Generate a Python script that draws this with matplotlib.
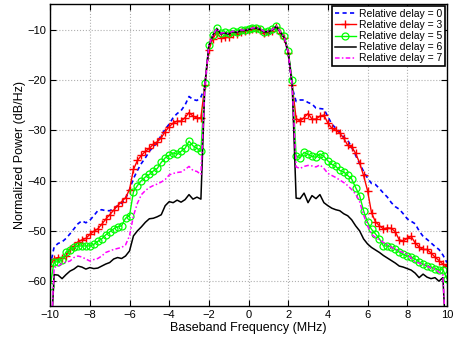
"""
Normalized power spectrum vs baseband frequency for several relative delays.
"""

import matplotlib
matplotlib.use("Agg")
import matplotlib.pyplot as plt
import numpy as np

plt.rcParams["font.family"] = ["Liberation Sans", "DejaVu Sans"]

# frequency grid (MHz), 0.2 MHz steps
freq = np.linspace(-10, 10, 101)

delay_labels = ["Relative delay = 0", "Relative delay = 3", "Relative delay = 5",
                "Relative delay = 6", "Relative delay = 7"]

psd_delay0 = [
    -57.0, -53.2, -52.5, -52.2, -51.5, -50.6, -49.6, -48.6, -48.0, -48.4, -47.9,
    -47.0, -46.0, -45.8, -46.0, -46.0, -45.6, -45.0, -44.5, -43.6, -41.8,
    -39.6, -38.0, -36.6, -35.5, -34.2, -33.3, -32.5, -31.0, -29.8, -28.8,
    -27.5, -26.7, -26.1, -25.0, -23.3, -23.9, -24.1, -23.4,
    -21.5, -13.6,
    -11.3, -10.0, -10.9, -10.8, -11.0, -10.5, -10.6, -10.3, -10.2, -10.1,
    -9.9, -9.9, -10.3, -10.9, -10.8, -10.5, -9.8, -10.8, -11.8,
    -14.6, -21.5,
    -24.3, -24.0, -24.0, -24.5, -24.8, -25.6, -25.7, -25.8, -27.3, -28.8,
    -29.6, -30.4, -31.4, -32.0, -33.4, -35.0, -36.6, -38.2, -39.5, -40.6,
    -40.8, -41.6, -42.5, -43.3, -44.4, -45.2, -45.7, -46.6, -47.6, -48.1,
    -48.6, -50.0, -51.1, -51.7, -52.4, -53.1, -53.7, -54.8, -56.3,
]

psd_delay3 = [
    -57.0, -55.5, -55.3, -55.3, -55.0, -53.6, -53.1, -52.2, -51.8, -51.5, -50.7,
    -50.1, -49.6, -48.7, -47.7, -46.8, -45.9, -45.0, -44.2, -43.4, -41.8,
    -37.8, -36.0, -35.0, -34.2, -33.6, -32.8, -32.3, -31.5, -30.3, -29.3,
    -28.6, -28.2, -28.2, -27.5, -26.5, -27.2, -27.6, -27.5,
    -21.0, -14.0,
    -11.8, -10.6, -11.6, -11.5, -11.5, -10.9, -10.9, -10.4, -10.3, -10.1,
    -9.9, -9.8, -10.1, -10.6, -10.5, -10.2, -9.5, -10.6, -11.7,
    -14.6, -21.0,
    -27.7, -28.2, -27.5, -26.7, -27.8, -27.8, -27.2, -27.0, -28.6, -29.6,
    -30.0, -30.6, -31.6, -33.0, -33.3, -34.6, -36.5, -39.0, -42.0, -46.4,
    -48.2, -49.0, -49.6, -49.4, -49.5, -50.2, -51.8, -52.0, -51.5, -51.1,
    -52.4, -53.2, -53.7, -53.7, -54.4, -55.2, -55.9, -56.6, -57.0,
]

psd_delay5 = [
    -61.0, -56.1, -56.2, -55.8, -54.2, -53.8, -53.3, -53.0, -53.0, -53.0, -53.0,
    -52.7, -52.1, -51.6, -50.8, -50.2, -49.6, -49.2, -49.0, -47.5, -47.0,
    -42.2, -41.0, -40.0, -39.3, -38.8, -38.1, -37.6, -36.4, -35.5, -35.0,
    -34.5, -34.8, -34.2, -33.6, -32.2, -33.1, -33.6, -34.2,
    -20.7, -13.1,
    -11.0, -9.7, -10.6, -10.5, -10.7, -10.2, -10.4, -10.0, -10.0, -9.8,
    -9.6, -9.6, -9.9, -10.4, -10.2, -9.9, -9.2, -10.3, -11.3,
    -14.2, -20.0,
    -35.1, -35.5, -34.4, -34.8, -35.2, -35.4, -34.7, -35.2, -36.1, -36.8,
    -37.2, -38.0, -38.3, -39.0, -39.7, -41.4, -43.0, -46.0, -48.3, -49.7,
    -50.6, -51.6, -53.0, -53.0, -53.2, -53.7, -54.2, -54.7, -55.0, -55.2,
    -55.6, -56.2, -56.6, -57.0, -57.2, -57.5, -57.8, -57.7, -59.5,
]

psd_delay6 = [
    -75.0, -58.7, -58.8, -59.5, -58.7, -58.0, -57.6, -57.0, -57.2, -57.6, -57.3,
    -57.5, -57.4, -57.0, -56.6, -56.3, -55.6, -55.3, -55.5, -55.0, -54.0,
    -51.0, -50.0, -49.2, -48.3, -47.6, -47.5, -47.2, -46.8, -45.0, -44.2,
    -44.4, -43.9, -44.3, -43.8, -42.8, -43.7, -43.3, -43.7,
    -21.0, -13.2,
    -11.2, -9.9, -10.8, -10.7, -10.9, -10.4, -10.6, -10.2, -10.2, -10.0,
    -9.8, -9.7, -10.0, -10.5, -10.4, -10.1, -9.4, -10.5, -11.6,
    -14.5, -21.0,
    -43.5, -43.6, -42.5, -44.4, -43.0, -43.6, -42.8, -44.4, -45.0, -45.5,
    -45.8, -46.0, -46.6, -47.0, -47.8, -49.0, -50.0, -51.6, -52.6, -53.3,
    -53.8, -54.3, -54.9, -55.4, -55.9, -56.4, -57.0, -57.2, -57.5, -57.8,
    -58.4, -59.3, -58.6, -59.2, -59.5, -59.3, -60.0, -59.3, -75.0,
]

psd_delay7 = [
    -75.0, -57.3, -57.0, -56.5, -56.2, -56.0, -55.3, -55.0, -55.2, -55.6, -56.0,
    -55.7, -55.5, -55.0, -54.3, -54.0, -53.7, -53.5, -53.3, -52.8, -51.0,
    -47.0, -44.5, -42.8, -42.0, -41.4, -41.0, -40.7, -40.3, -39.8, -38.9,
    -38.6, -38.4, -38.3, -37.8, -37.2, -38.0, -38.2, -38.8,
    -21.0, -13.2,
    -11.1, -9.8, -10.7, -10.6, -10.8, -10.3, -10.5, -10.1, -10.1, -9.9,
    -9.7, -9.6, -9.9, -10.4, -10.3, -10.0, -9.3, -10.4, -11.5,
    -14.4, -21.0,
    -37.3, -37.6, -37.2, -37.0, -37.1, -37.3, -36.9, -37.6, -38.6, -39.0,
    -39.4, -39.9, -40.4, -41.0, -41.8, -42.7, -44.2, -46.8, -49.0, -50.7,
    -51.3, -51.8, -52.3, -52.8, -53.3, -53.6, -54.0, -54.3, -54.7, -55.4,
    -56.2, -56.4, -56.7, -57.0, -57.4, -57.6, -58.2, -58.8, -75.0,
]


fig = plt.figure(figsize=(4.56, 3.37), dpi=100)
ax = fig.add_axes([0.110, 0.091, 0.870, 0.896])

ax.plot(freq, psd_delay0, color="#0000ff", linestyle=(0, (2.5, 2)), linewidth=1.2,
        label=delay_labels[0])
ax.plot(freq, psd_delay3, color="#ff0000", linestyle="-", linewidth=1.0,
        marker="+", markersize=6, markeredgewidth=1.0, label=delay_labels[1])
ax.plot(freq, psd_delay5, color="#00ff00", linestyle="-", linewidth=1.0,
        marker="o", markersize=5, markerfacecolor="none", markeredgewidth=0.9,
        label=delay_labels[2])
ax.plot(freq, psd_delay6, color="black", linestyle="-", linewidth=1.1,
        label=delay_labels[3])
ax.plot(freq, psd_delay7, color="#ff00ff", linestyle=(0, (3, 1.5, 1, 1.5)), linewidth=1.1,
        label=delay_labels[4])

ax.set_xlim(-10, 10)
ax.set_ylim(-65, -5)
ax.set_xticks(np.arange(-10, 11, 2))
ax.set_yticks([-60, -50, -40, -30, -20, -10])
ax.tick_params(direction="in", length=4, width=0.8, top=True, right=True,
               labelsize=8, pad=3)
ax.grid(True, color="#b0b0b0", linestyle=":", linewidth=0.8)
for sp in ax.spines.values():
    sp.set_linewidth(1.0)

ax.set_xlabel("Baseband Frequency (MHz)", fontsize=9, labelpad=1)
ax.set_ylabel("Normalized Power (dB/Hz)", fontsize=9, labelpad=1)

leg = ax.legend(loc="upper right", fontsize=7.5, frameon=True, fancybox=False,
                framealpha=1, edgecolor="black", borderpad=0.25, labelspacing=0.1,
                handlelength=2.0, handletextpad=0.3, borderaxespad=0.2)
leg.get_frame().set_linewidth(1.2)

fig.savefig("out.png", dpi=100)
plt.close(fig)
